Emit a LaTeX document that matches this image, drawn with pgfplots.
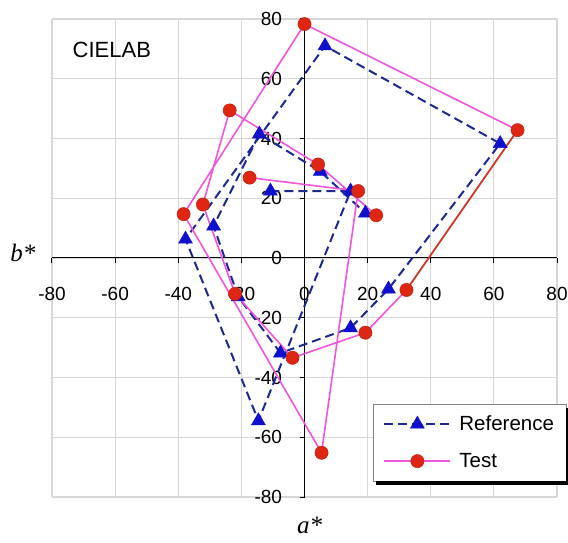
\documentclass[border=0pt]{standalone}
\usepackage{pgfplots}
\pgfplotsset{compat=1.18}
\usepackage{pgfplotstable}
\usepackage{fontspec}
\setmainfont{Liberation Sans}
\newfontfamily\seriffont{Liberation Serif}

\definecolor{refline}{RGB}{30,40,145}
\definecolor{refmark}{RGB}{15,15,205}
\definecolor{magline}{RGB}{240,85,220}
\definecolor{testmark}{RGB}{222,38,18}
\definecolor{segred}{RGB}{205,55,40}
\definecolor{gridgray}{RGB}{215,215,215}

\pgfplotstableread{
a b
-10.8 22.4
14.6 22.4
-14.6 -54.5
-37.7 6.3
6.5 71
62 38.3
26.6 -10.4
14.6 -23.4
-7.6 -31.8
-21 -13
-28.8 10.7
-14.3 41.5
5 29
19.3 15
}\reftable

\pgfplotstableread{
a b
-17.4 26.9
17 22.4
5.4 -65.2
-38.3 14.7
0 78.3
67.5 42.8
nan nan
32.3 -10.7
19.3 -25
-3.8 -33.4
-22 -12
-32.2 17.9
-23.7 49.4
4.3 31.3
22.7 14.3
}\testlinetab

\pgfplotstableread{
a b
67.5 42.8
32.3 -10.7
}\redseg

\pgfplotstableread{
a b
-17.4 26.9
17 22.4
5.4 -65.2
-38.3 14.7
0 78.3
67.5 42.8
32.3 -10.7
19.3 -25
-3.8 -33.4
-22 -12
-32.2 17.9
-23.7 49.4
4.3 31.3
22.7 14.3
}\testpts

\begin{document}
\begin{tikzpicture}
\begin{axis}[
  name=ax, at={(0,0)}, anchor=south west,
  scale only axis, width=505pt, height=478pt,
  xmin=-80, xmax=80, ymin=-80, ymax=80,
  axis lines=middle,
  axis line style={-, black, line width=1pt},
  xtick={-80,-60,...,80}, ytick={-80,-60,...,80},
  grid=major, major grid style={gridgray, line width=1.2pt},
  tick style={black, line width=1pt}, tick align=outside, major tick length=5pt,
  hide obscured x ticks=false, hide obscured y ticks=false,
  /pgf/number format/assume math mode=true,
  tick label style={font=\fontsize{19}{19}\selectfont},
  xticklabel style={anchor=center, yshift=-31pt},
  yticklabel style={anchor=east, xshift=-14pt},
  unbounded coords=jump,
  clip=false,
  legend style={name=leg, at={(axis description cs:0.636,0.195)}, anchor=north west,
    draw=gray, fill=white,
    font=\fontsize{20.5}{20.5}\selectfont, row sep=17pt,
    inner xsep=10pt, inner ysep=10pt,
    /tikz/every odd column/.append style={column sep=6pt}},
  legend cell align=left,
  legend image code/.code={\draw[mark repeat=2,mark phase=2,#1] plot coordinates {(0pt,0pt) (33pt,0pt) (66pt,0pt)};},
]
\addplot[color=refline, line width=2pt, dash pattern=on 9pt off 5pt,
  mark=triangle*, mark size=8pt, mark options={solid, fill=refmark, draw=refmark, line width=0.5pt}]
  table[x=a, y=b] {\reftable};
\addlegendentry{Reference}
\addplot[color=magline, line width=1.6pt, forget plot] table[x=a, y=b] {\testlinetab};
\addplot[color=segred, line width=1.8pt, forget plot] table[x=a, y=b] {\redseg};
\addplot[color=magline, line width=1.6pt, only marks, forget plot,
  mark=*, mark size=6.6pt, mark options={fill=testmark, draw=testmark!85!black, line width=0.5pt}]
  table[x=a, y=b] {\testpts};
\addlegendimage{color=magline, solid, line width=1.6pt, mark=*, mark size=6.6pt, mark options={fill=testmark, draw=testmark!85!black, line width=0.5pt}}
\addlegendentry{Test}
\node[anchor=west, font=\fontsize{22}{22}\selectfont] at (axis description cs:0.034,0.935) {CIELAB};
\node[font=\seriffont\itshape\fontsize{25}{25}\selectfont] at ([yshift=-28pt]axis description cs:0.51,0) {a*};
\node[font=\seriffont\itshape\fontsize{25}{25}\selectfont] at ([xshift=-29pt]axis description cs:0,0.51) {b*};
\end{axis}
\fill[black] ([xshift=3pt]leg.south west) rectangle ([xshift=3pt,yshift=-4pt]leg.south east);
\fill[black] ([yshift=-4pt]leg.north east) rectangle ([xshift=3pt]leg.south east);
\pgfresetboundingbox
\useasboundingbox ([xshift=-52pt,yshift=-45pt]ax.south west) rectangle ([xshift=11pt,yshift=19pt]ax.north east);
\end{tikzpicture}
\end{document}
